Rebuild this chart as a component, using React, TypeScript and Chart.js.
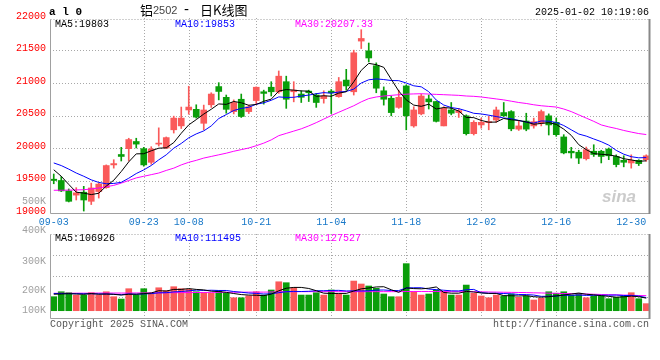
import React, { useEffect, useRef } from 'react';
import { Chart, registerables } from 'chart.js';
Chart.register(...registerables);

const dates = [
  '09-03','09-04','09-05','09-06','09-09','09-10','09-11','09-12','09-13','09-18','09-19','09-20','09-23','09-24','09-25','09-26','09-27','09-30',
  '10-08','10-09','10-10','10-11','10-14','10-15','10-16','10-17','10-18','10-21','10-22','10-23','10-24','10-25','10-28','10-29','10-30','10-31',
  '11-01','11-04','11-05','11-06','11-07','11-08','11-11','11-12','11-13','11-14','11-15','11-18','11-19','11-20','11-21','11-22','11-25','11-26','11-27','11-28','11-29',
  '12-02','12-03','12-04','12-05','12-06','12-09','12-10','12-11','12-12','12-13','12-16','12-17','12-18','12-19','12-20','12-23','12-24','12-25','12-26','12-27','12-30','12-31',
  '01-02'
];

const opens = [19520,19500,19340,19275,19320,19180,19330,19390,19740,19900,19990,20100,19990,19780,20060,20000,20280,20340,20585,20595,20380,20665,20945,20780,20560,20750,20560,20730,20865,20935,20865,21020,20865,20830,20875,20815,20760,20875,20790,21045,20865,21645,21495,21265,20880,20765,20625,20955,20340,20525,20755,20715,20340,20585,20545,20495,20220,20355,20390,20430,20545,20560,20290,20415,20340,20380,20495,20395,20170,19950,19935,19835,19950,19950,19985,19870,19810,19770,19810,19820];
const highs = [19600,19560,19370,19390,19410,19460,19460,19740,19820,20010,20150,20150,20010,20020,20310,20170,20490,20630,20950,20665,20660,20850,21005,20815,20740,20830,20660,20940,20890,21020,21185,21105,21020,20880,20890,20840,20880,20900,21085,21210,21505,21820,21615,21310,20940,20800,20890,20970,20635,20830,20815,20720,20635,20700,20610,20510,20420,20460,20490,20630,20700,20575,20425,20535,20460,20585,20525,20460,20205,20010,19965,20015,20050,19965,20000,19895,19880,19895,19820,19895];
const lows = [19450,19330,19170,19200,19030,19130,19230,19380,19690,19800,19800,20000,19720,19750,20030,19990,20230,20300,20520,20460,20280,20625,20740,20535,20525,20470,20530,20675,20675,20800,20840,20610,20710,20700,20715,20625,20690,20530,20780,20890,20815,21530,21325,20850,20660,20495,20610,20280,20320,20510,20600,20400,20340,20510,20470,20200,20200,20305,20280,20395,20485,20265,20270,20265,20305,20340,20200,20180,19910,19845,19760,19815,19870,19770,19820,19710,19710,19690,19730,19795];
const closes = [19500,19340,19180,19310,19200,19385,19445,19730,19760,19870,20130,20060,19740,19985,20070,20160,20460,20460,20630,20475,20585,20830,20870,20595,20700,20485,20635,20935,20840,20865,21105,20750,20890,20780,20850,20700,20800,20850,21020,20955,21465,21685,21385,20920,20750,20545,20780,20495,20585,20800,20710,20410,20610,20535,20575,20220,20395,20395,20400,20585,20495,20295,20340,20290,20405,20560,20355,20205,19925,19925,19845,19975,19900,19870,19880,19745,19780,19810,19760,19880];

const ma5 = [19665,19565,19440,19320,19306,19283,19304,19414,19504,19638,19787,19910,19912,19957,19997,20003,20083,20227,20356,20437,20522,20596,20678,20671,20716,20696,20657,20670,20719,20752,20876,20899,20890,20878,20875,20794,20804,20796,20844,20865,21018,21195,21302,21282,21241,21057,20876,20740,20660,20641,20674,20600,20623,20613,20568,20470,20467,20424,20397,20399,20454,20434,20423,20401,20365,20378,20390,20363,20290,20194,20051,19975,19914,19903,19894,19874,19835,19817,19795,19803];
const ma10 = [19770,19730,19675,19615,19565,19510,19470,19450,19455,19472,19535,19607,19663,19731,19818,19895,19997,20070,20157,20217,20263,20340,20453,20514,20577,20609,20627,20674,20695,20734,20786,20778,20780,20799,20814,20835,20852,20843,20861,20870,20906,21000,21049,21063,21053,21038,21036,21000,20957,20941,20866,20738,20661,20622,20605,20572,20534,20524,20505,20484,20462,20451,20424,20399,20382,20416,20412,20393,20346,20280,20215,20183,20139,20097,20044,19963,19905,19866,19849,19853];
const ma30 = [19350,19350,19352,19355,19358,19370,19385,19405,19425,19460,19500,19540,19565,19590,19615,19655,19690,19740,19780,19810,19845,19870,19895,19920,19950,19975,20000,20035,20075,20125,20190,20225,20260,20295,20340,20390,20445,20500,20550,20600,20650,20710,20760,20785,20800,20810,20820,20828,20832,20835,20830,20825,20820,20815,20810,20800,20795,20785,20770,20755,20740,20720,20700,20685,20665,20650,20640,20630,20600,20560,20510,20460,20410,20355,20325,20300,20270,20245,20222,20207];

const volumes = [119000,161000,153000,131000,131000,153000,133000,161000,119000,99000,187000,133000,187000,148000,195000,170000,204000,187000,182000,161000,153000,148000,170000,148000,110000,110000,127000,161000,133000,176000,246000,238000,195000,133000,133000,153000,133000,176000,142000,133000,252000,227000,210000,190000,142000,119000,119000,400000,161000,133000,142000,176000,161000,133000,133000,218000,148000,125000,110000,133000,125000,142000,114000,125000,91000,105000,161000,148000,161000,133000,148000,110000,125000,125000,102000,114000,125000,153000,102000,60000];
const volMa5 = [140000,142000,145000,142000,139000,146000,140000,142000,139000,133000,140000,140000,145000,151000,170000,167000,181000,181000,188000,181000,177000,166000,163000,156000,146000,137000,133000,131000,128000,141000,169000,191000,198000,198000,189000,170000,149000,146000,147000,147000,167000,186000,193000,202000,204000,178000,156000,194000,188000,186000,191000,202000,155000,149000,149000,164000,159000,151000,147000,147000,128000,127000,125000,128000,119000,115000,119000,126000,133000,142000,150000,140000,135000,128000,122000,115000,118000,124000,119000,107000];
const volMa10 = [146000,146000,145000,145000,144000,144000,143000,142000,140000,136000,143000,140000,143000,145000,152000,153000,160000,163000,169000,175000,172000,174000,172000,172000,163000,157000,150000,147000,142000,144000,153000,162000,164000,163000,165000,170000,170000,172000,173000,168000,169000,168000,169000,175000,176000,172000,171000,193000,195000,195000,184000,179000,174000,169000,168000,178000,181000,153000,148000,148000,146000,143000,138000,137000,133000,122000,123000,125000,131000,131000,133000,130000,131000,131000,132000,133000,129000,130000,124000,112000];
const volMa30 = [148000,148000,148000,149000,149000,149000,150000,150000,150000,150000,150000,151000,151000,152000,152000,153000,153000,154000,154000,155000,155000,156000,156000,157000,157000,157000,158000,158000,158000,159000,160000,161000,161000,162000,162000,162000,162000,162000,162000,162000,162000,162000,162000,162000,162000,162000,162000,163000,163000,163000,163000,163000,163000,162000,162000,162000,162000,160000,159000,158000,157000,156000,155000,154000,152000,151000,149000,148000,146000,145000,143000,142000,140000,138000,136000,135000,133000,131000,129000,128000];

const priceTicks = [19000, 19500, 20000, 20500, 21000, 21500, 22000];
const priceGrid = [19500, 20000, 20500, 21000, 21500];
const labelIdx = [0, 12, 18, 27, 37, 47, 57, 67, 77];
const gridIdx = [12, 18, 27, 37, 47, 57, 67];
const volGrid = [116500, 295000, 473500];
const volAxisLabels = ['400K', '300K', '200K', '100K'];

const RED = '#fa5a5a';
const GREEN = '#0a9e0a';
const MONO = "'Liberation Mono', 'DejaVu Sans Mono', monospace";

const candleColors = closes.map((c, i) => (c >= opens[i] ? RED : GREEN));

function dotted(ctx: CanvasRenderingContext2D, x1: number, y1: number, x2: number, y2: number) {
  ctx.beginPath();
  ctx.moveTo(x1, y1);
  ctx.lineTo(x2, y2);
  ctx.stroke();
}

function drawBox(ctx: CanvasRenderingContext2D, a: any) {
  ctx.save();
  ctx.setLineDash([]);
  ctx.strokeStyle = '#a0a0a0';
  ctx.lineWidth = 1;
  const l = Math.round(a.left) + 0.5, r = Math.round(a.right) - 0.5;
  const t = Math.round(a.top) + 0.5, b = Math.round(a.bottom) + 0.5;
  ctx.beginPath();
  ctx.moveTo(l, t); ctx.lineTo(l, b); ctx.lineTo(r, b);
  ctx.stroke();
  ctx.setLineDash([1, 2]);
  dotted(ctx, l, t, r, t);
  ctx.setLineDash([]);
  ctx.strokeStyle = '#888';
  ctx.lineWidth = 2;
  dotted(ctx, r, t - 0.5, r, b + 0.5);
  ctx.restore();
}

function txt(ctx: CanvasRenderingContext2D, s: string, x: number, y: number, color: string, font: string, align: CanvasTextAlign = 'left') {
  ctx.fillStyle = color;
  ctx.font = font;
  ctx.textAlign = align;
  ctx.textBaseline = 'middle';
  ctx.fillText(s, x, y);
}

export default function App() {
  const mainRef = useRef<HTMLCanvasElement>(null);
  const volRef = useRef<HTMLCanvasElement>(null);

  useEffect(() => {
    const mainDecor = {
      id: 'mainDecor',
      beforeDatasetsDraw(chart: any) {
        const { ctx, chartArea: a, scales } = chart;
        ctx.save();
        ctx.strokeStyle = '#a8a8a8';
        ctx.lineWidth = 1;
        ctx.setLineDash([1, 2]);
        for (const v of priceGrid) {
          const py = Math.round(scales.y.getPixelForValue(v)) + 0.5;
          dotted(ctx, a.left, py, a.right, py);
        }
        for (const i of gridIdx) {
          const px = Math.round(scales.x.getPixelForValue(i)) + 0.5;
          dotted(ctx, px, a.top, px, a.bottom);
        }
        ctx.restore();
      },
      afterDraw(chart: any) {
        const { ctx, chartArea: a } = chart;
        drawBox(ctx, { left: a.left, right: a.right, top: a.top + 1, bottom: a.bottom });
        ctx.save();
        txt(ctx, 'a l 0', 49, 12, '#000', `bold 11px ${MONO}`);
        const cjk = "'Noto Sans CJK SC', sans-serif";
        txt(ctx, '铝', 140, 10, '#000', `13px ${cjk}`);
        txt(ctx, '2502', 153, 11, '#444', `11px 'Liberation Sans', sans-serif`);
        txt(ctx, '-', 184, 10, '#000', `15px 'Liberation Sans', sans-serif`);
        txt(ctx, '日K线图', 200, 10, '#000', `13px ${cjk}`);
        txt(ctx, '2025-01-02 10:19:06', 649, 12, '#000', `10px ${MONO}`, 'right');
        txt(ctx, 'MA5:' + ma5[ma5.length - 1], 55, 24, '#000', `10px ${MONO}`);
        txt(ctx, 'MA10:' + ma10[ma10.length - 1], 175, 24, '#0000ff', `10px ${MONO}`);
        txt(ctx, 'MA30:20207.33', 295, 24, '#ff00ff', `10px ${MONO}`);
        txt(ctx, '500K', 46, 201, '#a0a0a0', `10px ${MONO}`, 'right');
        txt(ctx, 'sina', 602, 197, 'rgba(190,190,190,0.8)', "italic bold 17px 'Liberation Sans', sans-serif");
        ctx.restore();
      },
    };

    const main = new Chart(mainRef.current!, {
      type: 'bar',
      data: {
        labels: dates,
        datasets: [
          { type: 'line', data: ma5, borderColor: '#000', borderWidth: 1, pointRadius: 0, tension: 0, order: 0 } as any,
          { type: 'line', data: ma10, borderColor: '#0000ff', borderWidth: 1, pointRadius: 0, tension: 0, order: 0 } as any,
          { type: 'line', data: ma30, borderColor: '#ff00ff', borderWidth: 1, pointRadius: 0, tension: 0, order: 0 } as any,
          { type: 'bar', data: opens.map((o, i) => [o, closes[i]]), backgroundColor: candleColors, barThickness: 6, minBarLength: 1, grouped: false, order: 1 } as any,
          { type: 'bar', data: lows.map((l, i) => [l, highs[i]]), backgroundColor: candleColors, barThickness: 1, grouped: false, order: 2 } as any,
        ],
      },
      options: {
        animation: false,
        responsive: false,
        maintainAspectRatio: false,
        layout: { padding: { top: 18, right: 10, left: 0, bottom: 0 } },
        plugins: { legend: { display: false }, tooltip: { enabled: false } },
        scales: {
          x: {
            type: 'category',
            offset: true,
            grid: { display: false, drawTicks: false },
            border: { display: false },
            ticks: {
              autoSkip: false,
              maxRotation: 0,
              padding: 3,
              color: '#1878c8',
              font: { family: MONO, size: 10 },
              callback: (_v: any, i: number) => (labelIdx.includes(i) ? dates[i] : null),
            },
            afterFit: (s: any) => { s.height = 17; },
          },
          y: {
            min: 19000,
            max: 22000,
            afterBuildTicks: (s: any) => { s.ticks = priceTicks.map((v) => ({ value: v })); },
            grid: { display: false, drawTicks: false },
            border: { display: false },
            ticks: { color: '#ff0000', font: { family: MONO, size: 10 }, padding: 4, labelOffset: -2, callback: (v: any) => String(v) },
            afterFit: (s: any) => { s.width = 50; },
          },
        },
      } as any,
      plugins: [mainDecor],
    });

    const volDecor = {
      id: 'volDecor',
      beforeDatasetsDraw(chart: any) {
        const { ctx, chartArea: a, scales } = chart;
        ctx.save();
        ctx.strokeStyle = '#a8a8a8';
        ctx.lineWidth = 1;
        ctx.setLineDash([1, 2]);
        for (const v of volGrid) {
          const py = Math.round(scales.y.getPixelForValue(v)) + 0.5;
          dotted(ctx, a.left, py, a.right, py);
        }
        for (const i of gridIdx) {
          const px = Math.round(scales.x.getPixelForValue(i)) + 0.5;
          dotted(ctx, px, a.top, px, a.bottom);
        }
        ctx.restore();
      },
      afterDraw(chart: any) {
        const { ctx, chartArea: a } = chart;
        drawBox(ctx, a);
        ctx.save();
        txt(ctx, 'MA5:106926', 55, 14, '#000', `10px ${MONO}`);
        txt(ctx, 'MA10:111495', 175, 14, '#0000ff', `10px ${MONO}`);
        txt(ctx, 'MA30:127527', 295, 14, '#ff00ff', `10px ${MONO}`);
        const ys = [6.5, 37, 66, 86];
        volAxisLabels.forEach((s, k) => txt(ctx, s, 46, ys[k], '#a0a0a0', `10px ${MONO}`, 'right'));
        txt(ctx, 'Copyright 2025 SINA.COM', 50, 100, '#555', `10px ${MONO}`);
        txt(ctx, 'http://finance.sina.com.cn', 649, 100, '#555', `10px ${MONO}`, 'right');
        ctx.restore();
      },
    };

    const vol = new Chart(volRef.current!, {
      type: 'bar',
      data: {
        labels: dates,
        datasets: [
          { type: 'line', data: volMa5, borderColor: '#000', borderWidth: 1, pointRadius: 0, tension: 0, order: 0 } as any,
          { type: 'line', data: volMa10, borderColor: '#0000ff', borderWidth: 1, pointRadius: 0, tension: 0, order: 0 } as any,
          { type: 'line', data: volMa30, borderColor: '#ff00ff', borderWidth: 1, pointRadius: 0, tension: 0, order: 0 } as any,
          { type: 'bar', data: volumes, backgroundColor: candleColors, barThickness: 6, order: 1 } as any,
        ],
      },
      options: {
        animation: false,
        responsive: false,
        maintainAspectRatio: false,
        layout: { padding: { top: 10, right: 10, left: 50, bottom: 42 } },
        plugins: { legend: { display: false }, tooltip: { enabled: false } },
        scales: {
          x: { type: 'category', offset: true, display: false },
          y: { display: false, min: -62000, max: 652000 },
        },
      } as any,
      plugins: [volDecor],
    });

    return () => {
      main.destroy();
      vol.destroy();
    };
  }, []);

  return (
    <div style={{ position: 'absolute', left: 0, top: 0, width: 660, height: 360, background: '#fff' }}>
      <canvas ref={mainRef} width={660} height={230} style={{ position: 'absolute', left: 0, top: 0, width: 660, height: 230 }} />
      <canvas ref={volRef} width={660} height={136} style={{ position: 'absolute', left: 0, top: 224, width: 660, height: 136 }} />
    </div>
  );
}
